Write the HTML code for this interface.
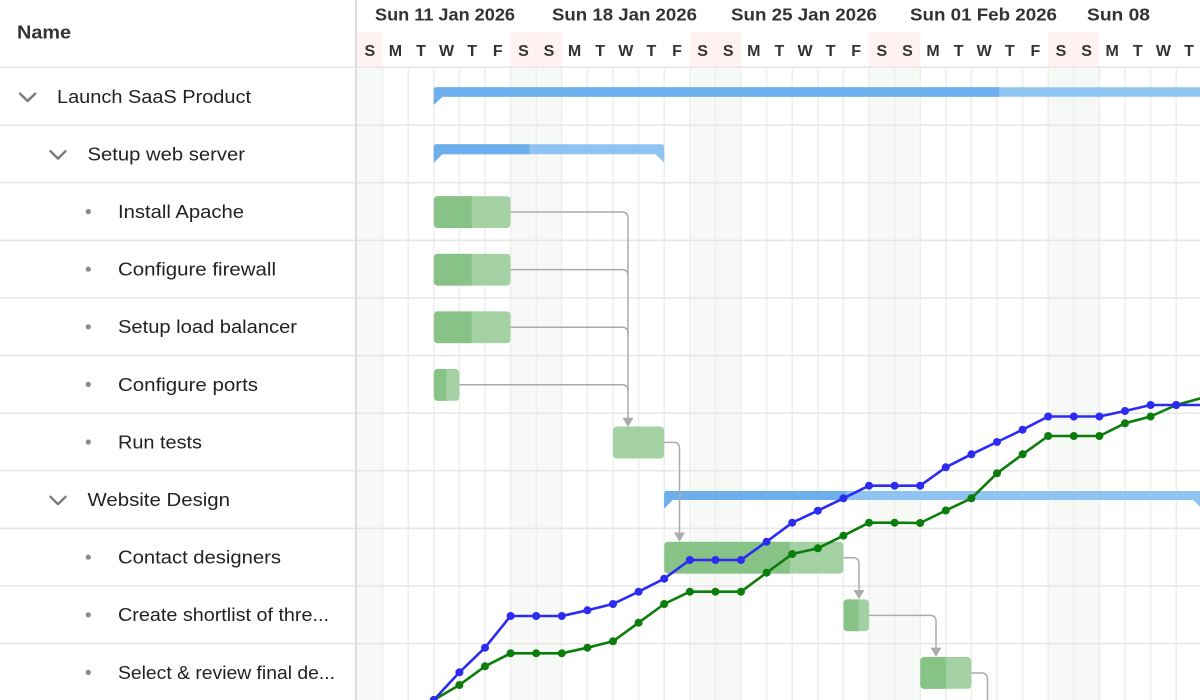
<!DOCTYPE html>
<html>
<head>
<meta charset="utf-8">
<style>
html,body{margin:0;padding:0;background:#fff;}
body{width:1200px;height:700px;overflow:hidden;}
svg{display:block;}
.lbl{font-family:"Liberation Sans",sans-serif;font-size:18.5px;fill:#222;}
.hd{font-family:"Liberation Sans",sans-serif;font-weight:bold;fill:#333;}
</style>
</head>
<body>
<svg width="1200" height="700" viewBox="0 0 1200 700" xmlns="http://www.w3.org/2000/svg">
<rect x="0" y="0" width="1200" height="700" fill="#fff"/>

<!-- header weekend pink -->
<g fill="#fff2f1">
<rect x="357" y="32.3" width="25.6" height="34.4"/>
<rect x="510.6" y="32.3" width="51.2" height="34.4"/>
<rect x="689.8" y="32.3" width="51.2" height="34.4"/>
<rect x="869" y="32.3" width="51.2" height="34.4"/>
<rect x="1048.2" y="32.3" width="51.2" height="34.4"/>
</g>
<!-- body weekend shading -->
<g fill="#f7f9f6">
<rect x="357" y="67.6" width="25.6" height="633"/>
<rect x="510.6" y="67.6" width="51.2" height="633"/>
<rect x="689.8" y="67.6" width="51.2" height="633"/>
<rect x="869" y="67.6" width="51.2" height="633"/>
<rect x="1048.2" y="67.6" width="51.2" height="633"/>
</g>

<!-- vertical grid lines -->
<g stroke="#eeeeee" stroke-width="1.5">
<line x1="382.6" y1="67.6" x2="382.6" y2="700"/>
<line x1="408.2" y1="67.6" x2="408.2" y2="700"/>
<line x1="433.8" y1="67.6" x2="433.8" y2="700"/>
<line x1="459.4" y1="67.6" x2="459.4" y2="700"/>
<line x1="485" y1="67.6" x2="485" y2="700"/>
<line x1="510.6" y1="67.6" x2="510.6" y2="700"/>
<line x1="536.2" y1="67.6" x2="536.2" y2="700"/>
<line x1="561.8" y1="67.6" x2="561.8" y2="700"/>
<line x1="587.4" y1="67.6" x2="587.4" y2="700"/>
<line x1="613" y1="67.6" x2="613" y2="700"/>
<line x1="638.6" y1="67.6" x2="638.6" y2="700"/>
<line x1="664.2" y1="67.6" x2="664.2" y2="700"/>
<line x1="689.8" y1="67.6" x2="689.8" y2="700"/>
<line x1="715.4" y1="67.6" x2="715.4" y2="700"/>
<line x1="741" y1="67.6" x2="741" y2="700"/>
<line x1="766.6" y1="67.6" x2="766.6" y2="700"/>
<line x1="792.2" y1="67.6" x2="792.2" y2="700"/>
<line x1="817.8" y1="67.6" x2="817.8" y2="700"/>
<line x1="843.4" y1="67.6" x2="843.4" y2="700"/>
<line x1="869" y1="67.6" x2="869" y2="700"/>
<line x1="894.6" y1="67.6" x2="894.6" y2="700"/>
<line x1="920.2" y1="67.6" x2="920.2" y2="700"/>
<line x1="945.8" y1="67.6" x2="945.8" y2="700"/>
<line x1="971.4" y1="67.6" x2="971.4" y2="700"/>
<line x1="997" y1="67.6" x2="997" y2="700"/>
<line x1="1022.6" y1="67.6" x2="1022.6" y2="700"/>
<line x1="1048.2" y1="67.6" x2="1048.2" y2="700"/>
<line x1="1073.8" y1="67.6" x2="1073.8" y2="700"/>
<line x1="1099.4" y1="67.6" x2="1099.4" y2="700"/>
<line x1="1125" y1="67.6" x2="1125" y2="700"/>
<line x1="1150.6" y1="67.6" x2="1150.6" y2="700"/>
<line x1="1176.2" y1="67.6" x2="1176.2" y2="700"/>
</g>

<!-- horizontal row lines -->
<g stroke="#e6e6e6" stroke-width="1.5">
<line x1="0" y1="67.3" x2="1200" y2="67.3"/>
<line x1="0" y1="125.2" x2="1200" y2="125.2"/>
<line x1="0" y1="182.8" x2="1200" y2="182.8"/>
<line x1="0" y1="240.4" x2="1200" y2="240.4"/>
<line x1="0" y1="298" x2="1200" y2="298"/>
<line x1="0" y1="355.6" x2="1200" y2="355.6"/>
<line x1="0" y1="413.2" x2="1200" y2="413.2"/>
<line x1="0" y1="470.8" x2="1200" y2="470.8"/>
<line x1="0" y1="528.4" x2="1200" y2="528.4"/>
<line x1="0" y1="586" x2="1200" y2="586"/>
<line x1="0" y1="643.6" x2="1200" y2="643.6"/>
</g>

<!-- splitter -->
<rect x="355" y="0" width="2" height="700" fill="#dedede"/>

<!-- header text -->
<text class="hd" x="17" y="38.3" font-size="18" textLength="54" lengthAdjust="spacingAndGlyphs">Name</text>
<g class="hd" font-size="17.3">
<text x="375" y="20.7" textLength="140" lengthAdjust="spacingAndGlyphs">Sun 11 Jan 2026</text>
<text x="552" y="20.7" textLength="145" lengthAdjust="spacingAndGlyphs">Sun 18 Jan 2026</text>
<text x="731" y="20.7" textLength="146" lengthAdjust="spacingAndGlyphs">Sun 25 Jan 2026</text>
<text x="910" y="20.7" textLength="147" lengthAdjust="spacingAndGlyphs">Sun 01 Feb 2026</text>
<text x="1087" y="20.7" textLength="63" lengthAdjust="spacingAndGlyphs">Sun 08</text>
</g>
<g class="hd" font-size="16" text-anchor="middle">
<text x="369.8" y="56">S</text><text x="395.4" y="56">M</text><text x="421" y="56">T</text><text x="446.6" y="56">W</text><text x="472.2" y="56">T</text><text x="497.8" y="56">F</text><text x="523.4" y="56">S</text>
<text x="549" y="56">S</text><text x="574.6" y="56">M</text><text x="600.2" y="56">T</text><text x="625.8" y="56">W</text><text x="651.4" y="56">T</text><text x="677" y="56">F</text><text x="702.6" y="56">S</text>
<text x="728.2" y="56">S</text><text x="753.8" y="56">M</text><text x="779.4" y="56">T</text><text x="805" y="56">W</text><text x="830.6" y="56">T</text><text x="856.2" y="56">F</text><text x="881.8" y="56">S</text>
<text x="907.4" y="56">S</text><text x="933" y="56">M</text><text x="958.6" y="56">T</text><text x="984.2" y="56">W</text><text x="1009.8" y="56">T</text><text x="1035.4" y="56">F</text><text x="1061" y="56">S</text>
<text x="1086.6" y="56">S</text><text x="1112.2" y="56">M</text><text x="1137.8" y="56">T</text><text x="1163.4" y="56">W</text><text x="1189" y="56">T</text>
</g>

<!-- tree chevrons -->
<g stroke="#7a7a7a" stroke-width="2.4" fill="none" stroke-linecap="round" stroke-linejoin="round">
<polyline points="20,93.6 27.6,101 35.2,93.6"/>
<polyline points="50.5,151.2 58,158.6 65.5,151.2"/>
<polyline points="50.5,496.8 58,504.2 65.5,496.8"/>
</g>
<!-- bullets -->
<g fill="#8a8a8a">
<circle cx="88.3" cy="211.6" r="2.6"/>
<circle cx="88.3" cy="269.2" r="2.6"/>
<circle cx="88.3" cy="326.8" r="2.6"/>
<circle cx="88.3" cy="384.4" r="2.6"/>
<circle cx="88.3" cy="442" r="2.6"/>
<circle cx="88.3" cy="557.2" r="2.6"/>
<circle cx="88.3" cy="614.8" r="2.6"/>
<circle cx="88.3" cy="672.4" r="2.6"/>
</g>
<!-- tree labels -->
<g class="lbl">
<text x="57" y="102.8" textLength="194" lengthAdjust="spacingAndGlyphs">Launch SaaS Product</text>
<text x="87.5" y="160.4" textLength="157.5" lengthAdjust="spacingAndGlyphs">Setup web server</text>
<text x="118" y="218" textLength="126" lengthAdjust="spacingAndGlyphs">Install Apache</text>
<text x="118" y="275.6" textLength="158" lengthAdjust="spacingAndGlyphs">Configure firewall</text>
<text x="118" y="333.2" textLength="179" lengthAdjust="spacingAndGlyphs">Setup load balancer</text>
<text x="118" y="390.8" textLength="140" lengthAdjust="spacingAndGlyphs">Configure ports</text>
<text x="118" y="448.4" textLength="84" lengthAdjust="spacingAndGlyphs">Run tests</text>
<text x="87.5" y="506" textLength="142.5" lengthAdjust="spacingAndGlyphs">Website Design</text>
<text x="118" y="563.6" textLength="163" lengthAdjust="spacingAndGlyphs">Contact designers</text>
<text x="118" y="621.2" textLength="211" lengthAdjust="spacingAndGlyphs">Create shortlist of thre...</text>
<text x="118" y="678.8" textLength="217" lengthAdjust="spacingAndGlyphs">Select &amp; review final de...</text>
</g>

<!-- summary bars -->
<path d="M433.8,90 Q433.8,87.3 436.5,87.3 L1210,87.3 L1210,96.7 L442.3,96.7 L433.8,104.9 Z" fill="#8fc3f2"/>
<path d="M433.8,90 Q433.8,87.3 436.5,87.3 L999,87.3 L999,96.7 L442.3,96.7 L433.8,104.9 Z" fill="#6cafec"/>
<path d="M433.8,147 Q433.8,144.3 436.5,144.3 L661.5,144.3 Q664.2,144.3 664.2,147 L664.2,162.7 L655.7,154.3 L442.3,154.3 L433.8,162.7 Z" fill="#8fc3f2"/>
<path d="M433.8,147 Q433.8,144.3 436.5,144.3 L529.3,144.3 L529.3,154.3 L442.3,154.3 L433.8,162.7 Z" fill="#6cafec"/>
<path d="M664.2,493.7 Q664.2,491 666.9,491 L1199.1,491 Q1201.8,491 1201.8,493.7 L1201.8,508.5 L1193.3,500 L672.7,500 L664.2,508.5 Z" fill="#8fc3f2"/>
<path d="M664.2,493.7 Q664.2,491 666.9,491 L846.7,491 L846.7,500 L672.7,500 L664.2,508.5 Z" fill="#6cafec"/>

<!-- task bars -->
<defs>
<clipPath id="c1"><rect x="433.8" y="196.1" width="76.8" height="32" rx="4"/></clipPath>
<clipPath id="c2"><rect x="433.8" y="253.7" width="76.8" height="32" rx="4"/></clipPath>
<clipPath id="c3"><rect x="433.8" y="311.3" width="76.8" height="32" rx="4"/></clipPath>
<clipPath id="c4"><rect x="433.8" y="368.9" width="25.6" height="32" rx="4"/></clipPath>
<clipPath id="c6"><rect x="664.2" y="541.7" width="179.2" height="32" rx="4"/></clipPath>
<clipPath id="c7"><rect x="843.4" y="599.3" width="25.6" height="32" rx="4"/></clipPath>
<clipPath id="c8"><rect x="920.2" y="656.9" width="51.2" height="32" rx="4"/></clipPath>
</defs>
<g clip-path="url(#c1)"><rect x="433.8" y="196.1" width="76.8" height="32" fill="#a3d1a3"/><rect x="433.8" y="196.1" width="37.9" height="32" fill="#87c287"/></g>
<g clip-path="url(#c2)"><rect x="433.8" y="253.7" width="76.8" height="32" fill="#a3d1a3"/><rect x="433.8" y="253.7" width="37.9" height="32" fill="#87c287"/></g>
<g clip-path="url(#c3)"><rect x="433.8" y="311.3" width="76.8" height="32" fill="#a3d1a3"/><rect x="433.8" y="311.3" width="37.9" height="32" fill="#87c287"/></g>
<g clip-path="url(#c4)"><rect x="433.8" y="368.9" width="25.6" height="32" fill="#a3d1a3"/><rect x="433.8" y="368.9" width="12.4" height="32" fill="#87c287"/></g>
<rect x="613" y="426.5" width="51.2" height="32" rx="4" fill="#a3d1a3"/>
<g clip-path="url(#c6)"><rect x="664.2" y="541.7" width="179.2" height="32" fill="#a3d1a3"/><rect x="664.2" y="541.7" width="125.8" height="32" fill="#87c287"/></g>
<g clip-path="url(#c7)"><rect x="843.4" y="599.3" width="25.6" height="32" fill="#a3d1a3"/><rect x="843.4" y="599.3" width="14.9" height="32" fill="#87c287"/></g>
<g clip-path="url(#c8)"><rect x="920.2" y="656.9" width="51.2" height="32" fill="#a3d1a3"/><rect x="920.2" y="656.9" width="26" height="32" fill="#87c287"/></g>

<!-- dependency lines -->
<g stroke="#ababab" stroke-width="1.5" fill="none">
<path d="M510.6,212 L622,212 Q628,212 628,218 L628,419"/>
<path d="M510.6,269.6 L622,269.6 Q628,269.6 628,275.6"/>
<path d="M510.6,327.2 L622,327.2 Q628,327.2 628,333.2"/>
<path d="M459.4,384.8 L622,384.8 Q628,384.8 628,390.8"/>
<path d="M664.2,442.4 L673.5,442.4 Q679.5,442.4 679.5,448.4 L679.5,533"/>
<path d="M843.4,557.8 L853,557.8 Q859,557.8 859,563.8 L859,590.5"/>
<path d="M869,615.4 L930,615.4 Q936,615.4 936,621.4 L936,648"/>
<path d="M971.4,673 L981.5,673 Q987.5,673 987.5,679 L987.5,702"/>
</g>
<g fill="#ababab">
<polygon points="622.5,417.8 633.5,417.8 628,427"/>
<polygon points="674,532.5 685,532.5 679.5,541.7"/>
<polygon points="853.5,590 864.5,590 859,599.2"/>
<polygon points="930.5,647.6 941.5,647.6 936,656.8"/>
</g>

<!-- progress lines -->
<polyline fill="none" stroke="#0b7d0b" stroke-width="2.6" stroke-linejoin="round" points="433.8,700 459.4,685 485,666.3 510.6,653.3 536.2,653.3 561.8,653.3 587.4,647.7 613,641.3 638.6,622.7 664.2,604 689.8,591.7 715.4,591.7 741,591.7 766.6,572.7 792.2,554 817.8,548.3 843.4,535.7 869,522.7 894.6,522.7 920.2,523 945.8,510.5 971.4,498.3 997,473.3 1022.6,454.3 1048.2,436 1073.8,436 1099.4,436 1125,423.3 1150.6,416.5 1176.2,405 1201.8,398"/>
<g fill="#0b7d0b">
<circle cx="433.8" cy="700" r="4"/><circle cx="459.4" cy="685" r="4"/><circle cx="485" cy="666.3" r="4"/><circle cx="510.6" cy="653.3" r="4"/><circle cx="536.2" cy="653.3" r="4"/><circle cx="561.8" cy="653.3" r="4"/><circle cx="587.4" cy="647.7" r="4"/><circle cx="613" cy="641.3" r="4"/><circle cx="638.6" cy="622.7" r="4"/><circle cx="664.2" cy="604" r="4"/><circle cx="689.8" cy="591.7" r="4"/><circle cx="715.4" cy="591.7" r="4"/><circle cx="741" cy="591.7" r="4"/><circle cx="766.6" cy="572.7" r="4"/><circle cx="792.2" cy="554" r="4"/><circle cx="817.8" cy="548.3" r="4"/><circle cx="843.4" cy="535.7" r="4"/><circle cx="869" cy="522.7" r="4"/><circle cx="894.6" cy="522.7" r="4"/><circle cx="920.2" cy="523" r="4"/><circle cx="945.8" cy="510.5" r="4"/><circle cx="971.4" cy="498.3" r="4"/><circle cx="997" cy="473.3" r="4"/><circle cx="1022.6" cy="454.3" r="4"/><circle cx="1048.2" cy="436" r="4"/><circle cx="1073.8" cy="436" r="4"/><circle cx="1099.4" cy="436" r="4"/><circle cx="1125" cy="423.3" r="4"/><circle cx="1150.6" cy="416.5" r="4"/><circle cx="1176.2" cy="405" r="4"/>
</g>
<polyline fill="none" stroke="#2b2bf2" stroke-width="2.6" stroke-linejoin="round" points="433.8,700 459.4,672.3 485,647.7 510.6,616 536.2,616 561.8,616 587.4,610.3 613,604 638.6,591.7 664.2,578.7 689.8,560 715.4,560 741,560 766.6,541.7 792.2,522.7 817.8,510.7 843.4,498.3 869,485.7 894.6,485.7 920.2,485.7 945.8,467.3 971.4,454.3 997,442 1022.6,429.7 1048.2,416.5 1073.8,416.5 1099.4,416.5 1125,411 1150.6,405 1176.2,405 1201.8,405"/>
<g fill="#2b2bf2">
<circle cx="433.8" cy="700" r="4"/><circle cx="459.4" cy="672.3" r="4"/><circle cx="485" cy="647.7" r="4"/><circle cx="510.6" cy="616" r="4"/><circle cx="536.2" cy="616" r="4"/><circle cx="561.8" cy="616" r="4"/><circle cx="587.4" cy="610.3" r="4"/><circle cx="613" cy="604" r="4"/><circle cx="638.6" cy="591.7" r="4"/><circle cx="664.2" cy="578.7" r="4"/><circle cx="689.8" cy="560" r="4"/><circle cx="715.4" cy="560" r="4"/><circle cx="741" cy="560" r="4"/><circle cx="766.6" cy="541.7" r="4"/><circle cx="792.2" cy="522.7" r="4"/><circle cx="817.8" cy="510.7" r="4"/><circle cx="843.4" cy="498.3" r="4"/><circle cx="869" cy="485.7" r="4"/><circle cx="894.6" cy="485.7" r="4"/><circle cx="920.2" cy="485.7" r="4"/><circle cx="945.8" cy="467.3" r="4"/><circle cx="971.4" cy="454.3" r="4"/><circle cx="997" cy="442" r="4"/><circle cx="1022.6" cy="429.7" r="4"/><circle cx="1048.2" cy="416.5" r="4"/><circle cx="1073.8" cy="416.5" r="4"/><circle cx="1099.4" cy="416.5" r="4"/><circle cx="1125" cy="411" r="4"/><circle cx="1150.6" cy="405" r="4"/><circle cx="1176.2" cy="405" r="4"/>
</g>
</svg>
</body>
</html>
